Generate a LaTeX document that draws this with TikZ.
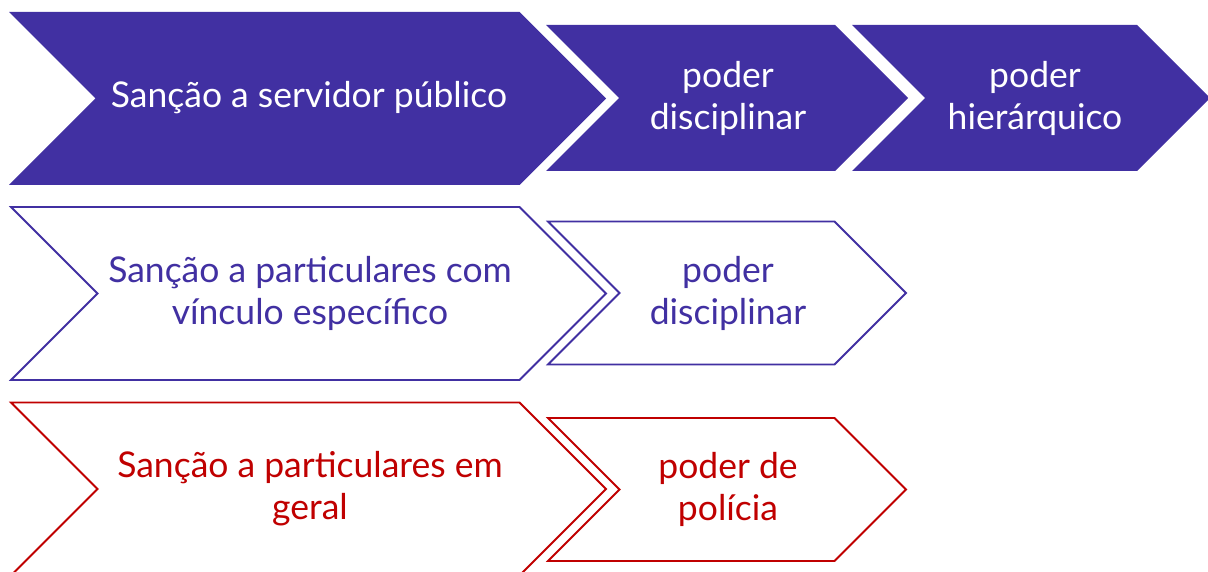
\documentclass[tikz,border=0pt]{standalone}
\usepackage{fontspec}
\setmainfont{Lato}
\definecolor{purp}{HTML}{4130A2}
\definecolor{redc}{HTML}{C00000}
\newcommand\chevshape[5]{%
  \draw[#1] (#2,#4-#5) -- (#3-#5,#4-#5) -- (#3,#4) -- (#3-#5,#4+#5) -- (#2,#4+#5) -- (#2+#5,#4) -- cycle;}
\begin{document}
\begin{tikzpicture}[x=1pt,y=-1pt,
  filled/.style={fill=purp,draw=none},
  outpurp/.style={draw=purp,line width=1.8pt,fill=white},
  outred/.style={draw=redc,line width=1.8pt,fill=white},
  txt/.style={font=\fontsize{35.5}{42}\selectfont,align=center,inner sep=0pt}]
\useasboundingbox (0,0) rectangle (1208,572);
\begin{scope}
\clip (0,0) rectangle (1208,572);
% row 1
\chevshape{filled}{9}{606}{98.5}{86.5}
\chevshape{filled}{546}{908}{98}{73}
\chevshape{filled}{852}{1210}{98}{73}
% row 2
\chevshape{outpurp}{11}{606}{293.5}{86.5}
\chevshape{outpurp}{548}{906}{293}{71.5}
% row 3
\chevshape{outred}{11}{606}{489}{86.5}
\chevshape{outred}{548}{906}{489.5}{71.5}
\end{scope}
\node[txt,text=white] (a1) at (309,98) {Sanção a servidor público};
\node[txt,text=white] (a2) at (728,98) {poder\\disciplinar};
\node[txt,text=white] (a3) at (1035,98) {poder\\hierárquico};
\node[txt,text=purp] (b1) at (310,293) {Sanção a particulares com\\vínculo específico};
\node[txt,text=purp] (b2) at (728,293) {poder\\disciplinar};
\node[txt,text=redc] (c1) at (310,489) {Sanção a particulares em\\geral};
\node[txt,text=redc] (c2) at (728,489) {poder de\\polícia};
\end{tikzpicture}
\end{document}
